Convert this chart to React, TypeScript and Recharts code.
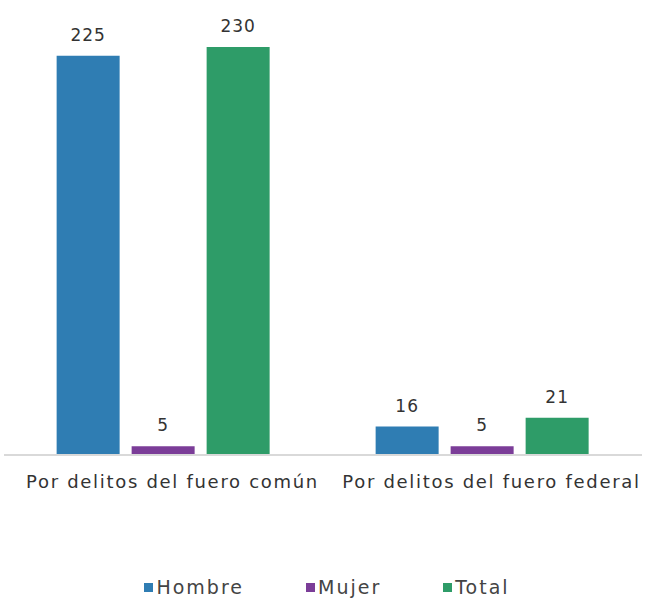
import React from 'react'
import { BarChart, Bar, XAxis, YAxis, LabelList, Legend } from 'recharts'

const categories = ['Por delitos del fuero común', 'Por delitos del fuero federal']
const hombre = [225, 16]
const mujer = [5, 5]
const total = [230, 21]

const series = [
  { key: 'Hombre', color: '#2f7db3' },
  { key: 'Mujer', color: '#7b3d98' },
  { key: 'Total', color: '#2e9c68' }
]

const data = categories.map((name, i) => ({
  name,
  Hombre: hombre[i],
  Mujer: mujer[i],
  Total: total[i]
}))

const font = '"DejaVu Sans", sans-serif'

function LegendContent() {
  return (
    <div
      style={{
        display: 'flex',
        justifyContent: 'center',
        gap: 62,
        paddingTop: 61,
        paddingLeft: 8,
        fontFamily: font,
        fontSize: 19,
        letterSpacing: 2,
        color: '#444'
      }}
    >
      {series.map(s => (
        <div key={s.key} style={{ display: 'flex', alignItems: 'center' }}>
          <span style={{ width: 9, height: 9, background: s.color, marginRight: 3, display: 'inline-block' }} />
          {s.key}
        </div>
      ))}
    </div>
  )
}

export default function App() {
  return (
    <div style={{ width: 647, height: 598, background: '#fff' }}>
      <style>{'body{margin:0}'}</style>
      <BarChart
        width={647}
        height={598}
        data={data}
        margin={{ top: 47, right: 5, left: 4, bottom: 0 }}
        barCategoryGap="16.5%"
        barGap={12}
      >
        <XAxis
          dataKey="name"
          axisLine={{ stroke: '#d9d9d9', strokeWidth: 2 }}
          tickLine={false}
          height={60}
          tick={{ fill: '#333', fontSize: 18, fontFamily: font, letterSpacing: 1.7, dx: 9 }}
          tickMargin={14}
          interval={0}
        />
        <YAxis hide domain={[0, 230]} />
        <Legend verticalAlign="bottom" content={<LegendContent />} wrapperStyle={{ height: 83 }} />
        {series.map(s => (
          <Bar key={s.key} dataKey={s.key} fill={s.color} isAnimationActive={false}>
            <LabelList
              dataKey={s.key}
              position="top"
              offset={15}
              style={{ fill: '#333', fontSize: 17, fontFamily: font, letterSpacing: 1 }}
            />
          </Bar>
        ))}
      </BarChart>
    </div>
  )
}
